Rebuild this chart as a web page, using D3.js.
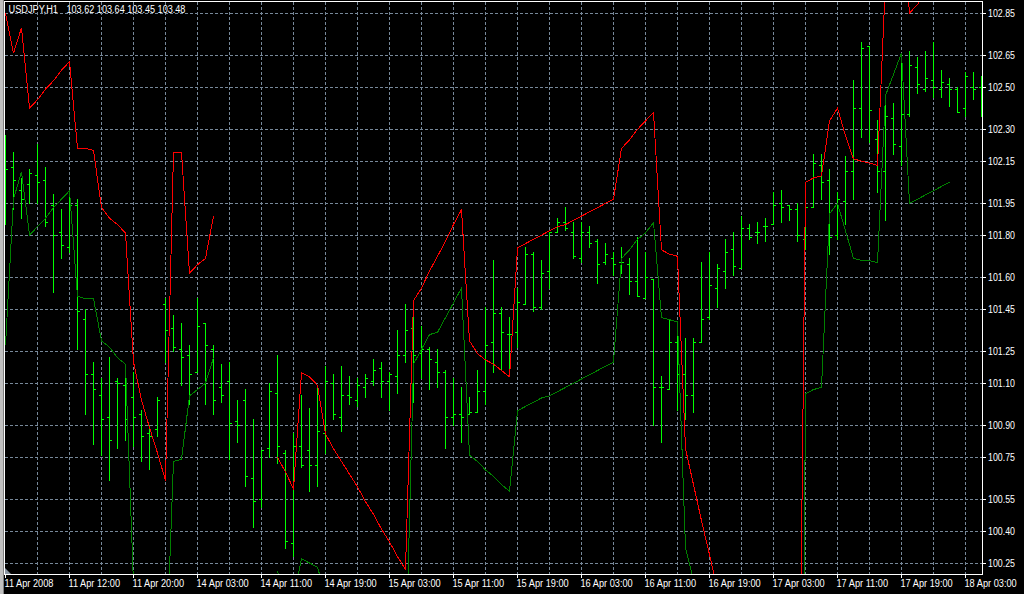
<!DOCTYPE html>
<html><head><meta charset="utf-8">
<script src="https://cdn.jsdelivr.net/npm/d3@7"></script>
<style>html,body{margin:0;padding:0;background:#000;overflow:hidden}</style>
</head><body><svg id="c" width="1024" height="594"></svg>
<script>
const symbolTitle = "USDJPY,H1";
const titleValues = "103.62 103.64 103.45 103.48";

const opens = [101.97,102.12,102.01,102.04,102.08,102.06,101.94,101.81,101.74,101.94,
101.40,101.14,101.04,100.94,101.11,101.09,101.03,100.95,100.86,100.88,
101.47,101.36,101.26,101.23,101.15,101.38,101.26,101.08,101.11,100.92,
101.02,100.65,100.55,100.79,101.05,100.77,100.34,100.80,100.78,100.71,
100.86,101.10,100.94,101.04,101.02,101.08,101.11,101.17,101.11,101.13,
101.23,101.36,101.24,101.26,101.20,101.15,100.94,100.95,100.95,100.96,
101.06,101.29,101.43,101.33,101.34,101.47,101.71,101.46,101.63,101.81,
101.86,101.81,101.69,101.81,101.77,101.67,101.69,101.67,101.66,101.58,
101.50,101.59,101.08,101.07,101.29,101.14,101.04,101.29,101.41,101.55,
101.63,101.73,101.64,101.83,101.81,101.84,101.85,101.95,101.94,101.92,
101.78,101.93,102.13,102.06,101.80,101.96,102.10,102.40,102.69,102.25,
102.10,102.35,102.22,102.37,102.59,102.49,102.53,102.49,102.51,102.49,
102.40,102.50,102.50];

const highs = [102.27,102.19,102.07,102.11,102.23,102.12,101.99,101.92,102.01,101.97,
101.45,101.20,101.12,101.22,101.12,101.12,101.15,100.97,100.90,101.03,
101.50,101.42,101.38,101.28,101.50,101.38,101.28,101.19,101.20,101.02,
101.07,100.93,100.78,101.10,101.23,100.78,100.86,101.04,100.98,101.09,
101.18,101.14,101.18,101.13,101.12,101.14,101.21,101.20,101.15,101.35,
101.47,101.41,101.37,101.27,101.26,101.16,101.12,101.08,101.03,101.16,
101.46,101.68,101.46,101.41,101.55,101.74,101.72,101.68,101.81,101.88,
101.93,101.86,101.86,101.84,101.78,101.76,101.72,101.74,101.69,101.79,
101.72,101.59,101.13,101.40,101.32,101.31,101.31,101.67,101.72,101.66,
101.78,101.81,101.89,101.85,101.86,101.88,102.00,102.01,101.94,101.95,
101.97,102.18,102.18,102.11,102.00,102.17,102.53,102.71,102.69,102.34,
102.46,102.42,102.66,102.67,102.64,102.67,102.71,102.58,102.54,102.50,
102.57,102.57,102.55];

const lows = [101.85,101.92,101.88,101.95,101.95,101.84,101.53,101.69,101.72,101.26,
100.95,100.81,100.76,100.64,100.79,100.83,100.80,100.73,100.69,100.85,
101.20,101.25,101.09,101.00,101.15,101.00,100.95,101.01,100.74,100.82,
100.61,100.42,100.51,100.75,100.72,100.32,100.28,100.70,100.59,100.61,
100.77,100.93,100.87,101.00,100.99,101.03,101.09,101.03,100.97,101.05,
101.20,101.01,101.12,101.07,101.08,100.79,100.90,100.82,100.95,100.96,
101.00,101.15,101.16,101.17,101.27,101.47,101.44,101.45,101.55,101.81,
101.82,101.69,101.67,101.74,101.57,101.66,101.61,101.62,101.52,101.51,
101.50,100.90,100.82,101.07,100.97,100.93,100.96,101.29,101.40,101.46,
101.55,101.61,101.64,101.78,101.76,101.77,101.85,101.86,101.87,101.77,
101.73,101.93,101.97,101.71,101.78,101.85,101.97,102.26,102.24,102.00,
101.87,102.18,102.13,102.36,102.47,102.48,102.45,102.45,102.41,102.38,
102.36,102.44,102.36];

const closes = [102.11,102.06,101.97,102.09,102.05,101.86,101.80,101.75,101.94,101.44,
101.14,101.07,100.93,100.83,101.10,100.93,100.94,100.85,100.85,101.02,
101.35,101.27,101.22,101.14,101.37,101.28,101.02,101.04,100.91,100.90,
100.66,100.54,100.78,101.06,100.80,100.35,100.80,100.71,100.71,100.87,
101.11,100.95,101.04,101.03,101.09,101.12,101.16,101.11,101.14,101.23,
101.35,101.23,101.26,101.21,101.15,100.94,100.95,100.94,100.96,101.06,
101.28,101.43,101.34,101.33,101.48,101.71,101.46,101.62,101.81,101.86,
101.83,101.70,101.81,101.76,101.66,101.71,101.66,101.67,101.58,101.51,
101.60,101.08,101.08,101.29,101.14,101.04,101.29,101.40,101.56,101.64,
101.72,101.65,101.83,101.79,101.81,101.84,101.94,101.93,101.92,101.80,
101.93,102.14,102.05,101.79,101.97,102.10,102.40,102.68,102.39,102.10,
102.36,102.23,102.37,102.60,102.51,102.54,102.50,102.52,102.49,102.38,
102.55,102.49,102.40];

const redLine = [102.85,102.66,102.78,102.40,102.44,102.49,102.53,102.58,102.62,102.21,
102.21,102.20,101.93,101.88,101.85,101.81,101.20,101.02,100.89,100.77,
100.64,102.19,102.19,101.62,101.66,101.69,101.89,null,null,null,
null,null,null,null,100.75,100.68,100.60,101.15,101.13,101.09,
100.86,100.79,100.73,100.67,100.61,100.54,100.48,100.41,100.35,100.28,
100.22,101.49,101.55,101.63,101.70,101.77,101.85,101.92,101.30,101.24,
101.21,101.19,101.16,101.13,101.74,101.76,101.78,101.80,101.82,101.84,
101.85,101.87,101.89,101.91,101.93,101.95,101.97,102.21,102.25,102.30,
102.34,102.38,101.73,101.71,101.70,100.79,100.62,100.45,100.29,100.12,
null,null,null,null,null,null,null,null,null,98.60,
102.05,102.07,102.08,102.34,102.40,102.27,102.16,102.15,102.14,102.13,
103.00,103.20,103.30,102.85,102.89,102.95,103.00,null,null,null,
null,null,null];

const greenLine = [101.28,101.97,102.10,101.80,101.84,101.88,101.93,101.97,102.01,101.51,
101.50,101.50,101.30,101.27,101.22,101.19,100.15,null,null,null,
99.70,100.73,100.74,101.04,101.07,101.10,101.22,null,null,null,
null,null,null,null,100.21,100.12,100.08,100.27,100.25,100.23,
100.10,null,null,null,null,null,null,null,null,null,
99.73,101.19,101.26,101.33,101.34,101.41,101.48,101.55,100.76,100.73,
100.69,100.66,100.62,100.59,100.97,100.99,101.01,101.03,101.04,101.06,
101.08,101.10,101.12,101.14,101.16,101.18,101.20,101.69,101.73,101.78,
101.81,101.86,101.41,101.40,101.39,100.32,100.17,null,null,null,
null,null,null,null,null,null,null,null,null,95.80,
101.05,101.07,101.08,101.90,101.95,101.82,101.69,101.68,101.68,101.67,
102.46,102.56,102.66,101.95,101.97,101.99,102.01,102.03,102.05,null,
null,null,null];

const timeTickIndex = [0,8,16,24,32,40,48,56,64,72,80,88,96,104,112,120];
const timeTickLabels = ["11 Apr 2008","11 Apr 12:00","11 Apr 20:00","14 Apr 03:00","14 Apr 11:00",
"14 Apr 19:00","15 Apr 03:00","15 Apr 11:00","15 Apr 19:00","16 Apr 03:00","16 Apr 11:00",
"16 Apr 19:00","17 Apr 03:00","17 Apr 11:00","17 Apr 19:00","18 Apr 03:00"];
const priceTicks = [102.85,102.65,102.50,102.30,102.15,101.95,101.80,101.60,101.45,101.25,
101.10,100.90,100.75,100.55,100.40,100.25];

const W = 1024, H = 594;
const svg = d3.select("#c");
const n = opens.length;
const x = d3.scaleLinear().domain([0, n - 1]).range([5.5, 981.5]);
const y = d3.scaleLinear().domain([100.25, 102.85]).range([563, 13]);
const row = v => Math.floor(y(v));
const col = i => Math.round(x(i) - 0.5);
const FONT = "'Liberation Sans', Arial, sans-serif";

svg.append("rect").attr("width", W).attr("height", H).attr("fill", "#000");
svg.append("rect").attr("x", 0).attr("y", 0).attr("width", 3).attr("height", H).attr("fill", "#c0c0c0");
svg.append("rect").attr("x", 3).attr("y", 0).attr("width", 1).attr("height", H).attr("fill", "#808080");

const defs = svg.append("defs");
defs.append("clipPath").attr("id", "plot").append("rect")
  .attr("x", 5).attr("y", 2).attr("width", 977).attr("height", 572);

// grid
const grid = svg.append("g").attr("stroke", "#778899").attr("stroke-dasharray", "3,2")
  .attr("shape-rendering", "crispEdges").attr("stroke-width", 1);
grid.selectAll("line.h").data(priceTicks).join("line").attr("class", "h")
  .attr("x1", 5).attr("x2", 982).attr("y1", d => row(d) + 0.5).attr("y2", d => row(d) + 0.5);
const vIdx = d3.range(4, n, 4);
grid.selectAll("line.v").data(vIdx).join("line").attr("class", "v")
  .attr("x1", d => col(d) + 0.5).attr("x2", d => col(d) + 0.5).attr("y1", 2).attr("y2", 574);

const plot = svg.append("g").attr("clip-path", "url(#plot)").attr("shape-rendering", "crispEdges");
const idx = d3.range(n);
const bars = plot.append("g").attr("fill", "#00ff00");
bars.selectAll("rect.hl").data(idx).join("rect").attr("class", "hl")
  .attr("x", i => col(i)).attr("width", 1)
  .attr("y", i => row(highs[i])).attr("height", i => row(lows[i]) - row(highs[i]) + 1);
bars.selectAll("rect.o").data(idx).join("rect").attr("class", "o")
  .attr("x", i => col(i) - 2).attr("width", 2)
  .attr("y", i => row(opens[i])).attr("height", 1);
bars.selectAll("rect.c").data(idx).join("rect").attr("class", "c")
  .attr("x", i => col(i) + 1).attr("width", 2)
  .attr("y", i => row(closes[i])).attr("height", 1);

const lineGen = d3.line().defined(d => d.v !== null).x(d => x(d.i)).y(d => y(d.v));
plot.append("path").datum(greenLine.map((v, i) => ({i, v})))
  .attr("d", lineGen).attr("fill", "none").attr("stroke", "#008000").attr("stroke-width", 1);
plot.append("path").datum(redLine.map((v, i) => ({i, v})))
  .attr("d", lineGen).attr("fill", "none").attr("stroke", "#ff0000").attr("stroke-width", 1);

// frame
const frame = svg.append("g").attr("stroke", "#fff").attr("shape-rendering", "crispEdges");
frame.append("line").attr("x1", 4).attr("x2", 983).attr("y1", 1.5).attr("y2", 1.5);
frame.append("line").attr("x1", 4).attr("x2", 983).attr("y1", 574.5).attr("y2", 574.5);
frame.append("line").attr("x1", 982.5).attr("x2", 982.5).attr("y1", 1).attr("y2", 575);
frame.append("line").attr("x1", 4.5).attr("x2", 4.5).attr("y1", 1).attr("y2", 575);
frame.selectAll("line.tt").data(timeTickIndex).join("line").attr("class", "tt")
  .attr("x1", d => col(d) + 0.5).attr("x2", d => col(d) + 0.5).attr("y1", 575).attr("y2", 578);
frame.selectAll("line.pt").data(priceTicks).join("line").attr("class", "pt")
  .attr("x1", 983).attr("x2", 986).attr("y1", d => row(d) + 0.5).attr("y2", d => row(d) + 0.5);

svg.append("path").attr("d", "M5,568 L5,574 L11,574 Z").attr("fill", "#8a96a3");

function squeeze(sel, f) {
  sel.each(function () {
    const w = this.getComputedTextLength();
    d3.select(this).attr("textLength", w * f).attr("lengthAdjust", "spacingAndGlyphs");
  });
}

const txt = svg.append("g").attr("fill", "#fff").attr("font-family", FONT).attr("font-size", 10);
squeeze(txt.append("text").attr("x", 8.5).attr("y", 13).text(symbolTitle), 0.92);
squeeze(txt.append("text").attr("x", 66.5).attr("y", 13).text(titleValues), 0.91);
squeeze(txt.selectAll("text.pl").data(priceTicks).join("text").attr("class", "pl")
  .attr("x", 988).attr("y", d => row(d) + 4).text(d => d.toFixed(2)), 0.88);
squeeze(txt.selectAll("text.tl").data(timeTickIndex).join("text").attr("class", "tl")
  .attr("x", d => col(d) - 0.5).attr("y", 587).text((d, k) => timeTickLabels[k]), 0.92);
</script></body></html>
